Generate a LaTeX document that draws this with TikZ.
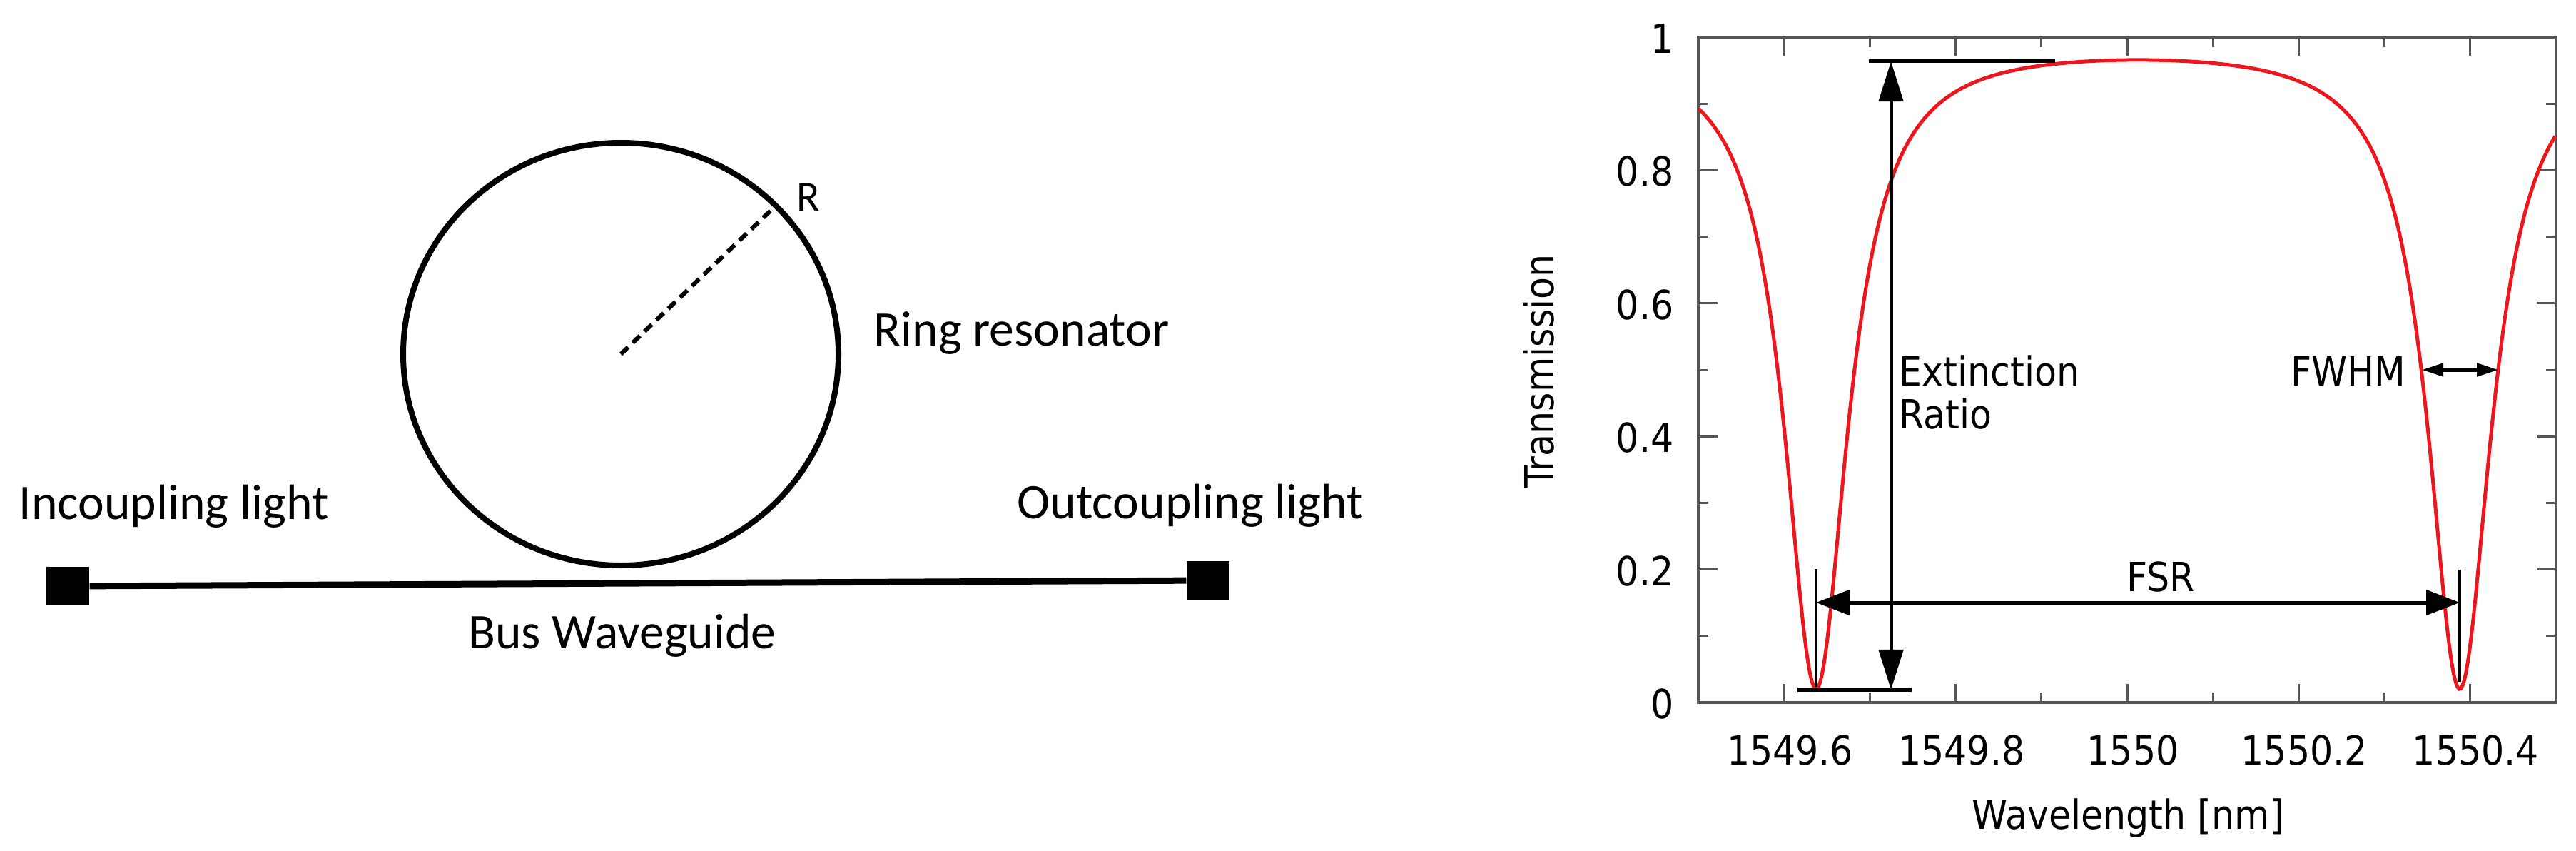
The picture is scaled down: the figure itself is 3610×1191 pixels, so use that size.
\documentclass[tikz,border=0pt]{standalone}
\usepackage{fontspec}
\setmainfont{Carlito}
\newfontfamily\plotfont[FakeStretch=0.9]{DejaVu Sans}
\usetikzlibrary{arrows.meta}
\definecolor{curvered}{RGB}{236,22,28}
\definecolor{framegray}{RGB}{85,85,85}

\begin{document}
\begin{tikzpicture}[x=0.01cm, y=-0.01cm,
        every node/.style={inner sep=0pt, font=\fontsize{19.8}{23}\selectfont}, % Calibri-like labels
        port/.style={fill=black, minimum width=0.6cm, minimum height=0.53cm},
        ringline/.style={line width=0.08cm},
        radline/.style={line width=0.06cm, dash pattern=on 0.14cm off 0.09cm},
        busline/.style={line width=0.09cm},
        frame/.style={draw=framegray, line width=0.035cm},
        tick/.style={framegray, line width=0.03cm},
        plotlab/.style={font=\plotfont\fontsize{16}{17}\selectfont},
        curve/.style={curvered, line width=0.05cm},
        erarrow/.style={line width=0.05cm, {Triangle[length=0.56cm,width=0.34cm]}-{Triangle[length=0.56cm,width=0.34cm]}},
        fsrarrow/.style={line width=0.05cm, {Triangle[length=0.47cm,width=0.35cm]}-{Triangle[length=0.47cm,width=0.35cm]}},
        fwhmarrow/.style={line width=0.05cm, {Triangle[length=0.3cm,width=0.18cm]}-{Triangle[length=0.3cm,width=0.18cm]}}
    ]
    \useasboundingbox (0,0) rectangle (3610,1191);

    % ring and bus waveguide
    \coordinate (ringc) at (870,496);
    \coordinate (rtip) at (1082,293);
    \draw[ringline] (ringc) ellipse [x radius=305, y radius=296];
    \draw[radline] (ringc) -- (rtip);
    \node[anchor=base west, font=\fontsize{17}{20}\selectfont] (rlab) at (1116,295) {R};
    \node[anchor=base west] (ringlab) at (1224,484) {Ring resonator};
    \node[port] (inport) at (95,821) {};
    \node[port] (outport) at (1693,813) {};
    \draw[busline] (inport) -- (outport);
    \node[anchor=base west] (inlab) at (26,727) {Incoupling light};
    \node[anchor=base west] (outlab) at (1425,726) {Outcoupling light};
    \node[anchor=base] (buslab) at (872,908) {Bus Waveguide};

    % transmission plot
    \coordinate (pll) at (2380,984);
    \coordinate (pur) at (3582,52);
    \foreach \u/\lab [count=\k] in {-0.4/1549.6, -0.2/1549.8, 0/1550, 0.2/1550.2, 0.4/1550.4} {
        \draw[tick] ({2981+1201*\u},984) -- ++(0,-26);
        \draw[tick] ({2981+1201*\u},52) -- ++(0,26);
        \node[plotlab, anchor=north] (xlab\k) at ({2989+1201*\u},1029) {\lab};
    }
    \foreach \u in {-0.3,-0.1,0.1,0.3} {
        \draw[tick] ({2981+1201*\u},984) -- ++(0,-14);
        \draw[tick] ({2981+1201*\u},52) -- ++(0,14);
    }
    \foreach \t/\lab [count=\k] in {0/0, 0.2/0.2, 0.4/0.4, 0.6/0.6, 0.8/0.8, 1/1} {
        \draw[tick] (2380,{984-932*\t}) -- ++(27,0);
        \draw[tick] (3582,{984-932*\t}) -- ++(-27,0);
        \node[plotlab, anchor=east] (ylab\k) at (2346,{986-932*\t}) {\lab};
    }
    \foreach \t in {0.1,0.3,0.5,0.7,0.9} {
        \draw[tick] (2380,{984-932*\t}) -- ++(14,0);
        \draw[tick] (3582,{984-932*\t}) -- ++(-14,0);
    }
    \draw[frame] (pll) rectangle (pur);
    \node[plotlab, anchor=base] (xaxislab) at (2982,1161) {Wavelength [nm]};
    \node[plotlab, rotate=90] (yaxislab) at (2156,520) {Transmission};

    % ring all-pass response
    \draw[curve] plot[domain=-0.5:0.5, samples=501]
        ({2981+1201*\x},{984-932*(1.372136-1.3702*cos(479.36*(\x+0.363)))/(1.46936-1.3702*cos(479.36*(\x+0.363)))});

    % extinction ratio
    \coordinate (ertop) at (2650,86);
    \coordinate (erbot) at (2650,966);
    \coordinate (ertopl) at (2619,86);
    \coordinate (ertopr) at (2880,86);
    \coordinate (erbotl) at (2519,966);
    \coordinate (erbotr) at (2679,966);
    \draw[line width=0.05cm] (ertopl) -- (ertopr);
    \draw[line width=0.06cm] (erbotl) -- (erbotr);
    \draw[erarrow] (erbot) -- (ertop);
    \node[plotlab, anchor=north west, align=left] (erlab) at (2661,497) {Extinction\\Ratio};

    % free spectral range
    \coordinate (fsrl) at (2545,844);
    \coordinate (fsrr) at (3447,844);
    \coordinate (fsrlt) at (2545,797);
    \coordinate (fsrlb) at (2545,962);
    \coordinate (fsrrt) at (3447,798);
    \coordinate (fsrrb) at (3447,955);
    \draw[line width=0.035cm] (fsrlt) -- (fsrlb);
    \draw[line width=0.035cm] (fsrrt) -- (fsrrb);
    \draw[fsrarrow] (fsrl) -- (fsrr);
    \node[plotlab, anchor=base] (fsrlab) at (3028,828) {FSR};

    % linewidth
    \coordinate (fwhml) at (3394,518);
    \coordinate (fwhmr) at (3501,518);
    \draw[fwhmarrow] (fwhml) -- (fwhmr);
    \node[plotlab, anchor=base east] (fwhmlab) at (3372,540) {FWHM};
\end{tikzpicture}
\end{document}
